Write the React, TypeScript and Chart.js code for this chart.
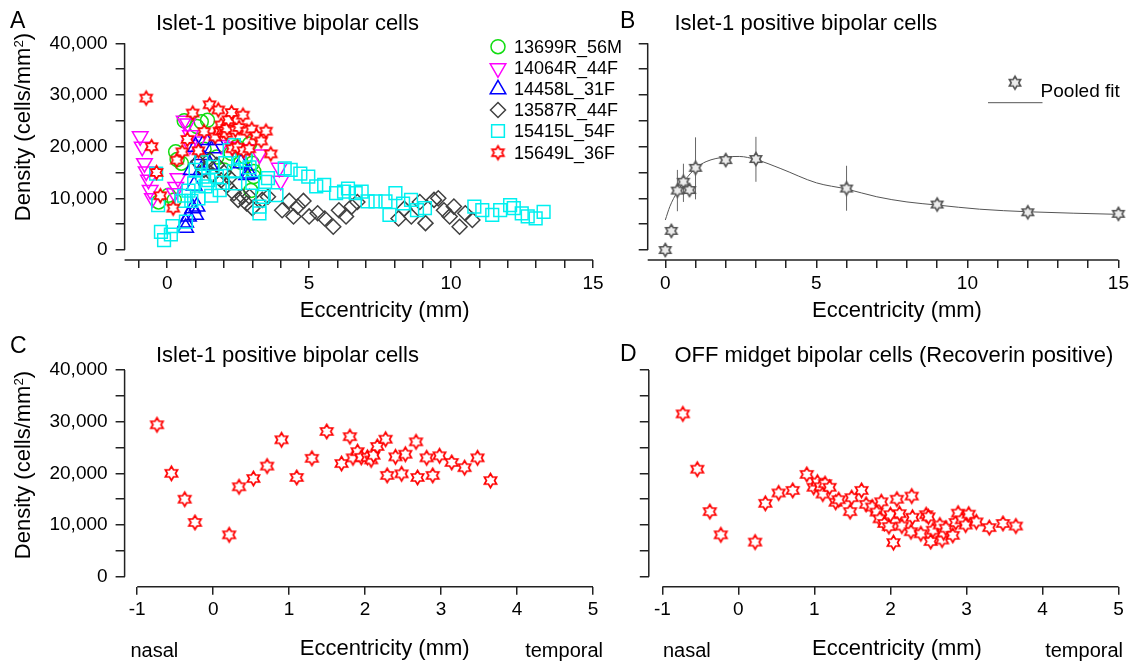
import React, { useEffect, useRef } from 'react';
import { Chart, registerables } from 'chart.js';
import { drawPoint } from 'chart.js/helpers';

Chart.register(...registerables);

const FONT = "'Liberation Sans', Arial, Helvetica, sans-serif";
const AXIS = '#222';

// ---------- Panel A / C : 15649L_36F (red stars) ----------
const redX = [-0.74, -0.55, -0.375, -0.24, 0.21, 0.34, 0.53, 0.71, 0.9, 1.1, 1.3, 1.495, 1.69, 1.8, 1.84, 1.9, 1.95, 2.03, 2.08, 2.11, 2.16, 2.27, 2.29, 2.4, 2.48, 2.53, 2.67, 2.69, 2.81, 2.89, 2.98, 3.14, 3.31, 3.48, 3.65];
const redY = [29400, 20000, 15000, 10500, 8100, 17400, 19000, 21400, 26500, 19200, 22900, 28100, 21900, 27100, 23000, 24200, 23100, 23100, 22600, 23500, 25200, 26600, 19600, 23200, 19900, 23700, 26100, 19200, 23000, 19600, 23400, 22100, 21100, 23000, 18600];

// ---------- Panel A other specimens ----------
const greenX = [-0.3, 0.05, 0.25, 0.3, 0.35, 0.5, 0.6, 1.05, 1.2, 1.42, 1.3, 1.75, 2.0, 2.25, 2.45, 2.6, 2.75, 2.9, 2.95, 3.0, 3.05, 3.05];
const greenY = [9300, 10600, 9700, 19000, 17500, 16800, 25000, 23900, 24800, 25100, 19500, 18000, 15500, 18700, 20000, 17000, 18000, 20500, 11500, 16800, 15200, 14200];

const magX = [-0.95, -0.88, -0.8, -0.74, -0.66, -0.6, -0.52, 0.25, 0.3, 0.38, 0.6, 0.72, 0.82, 0.8, 1.1, 1.9, 2.3, 2.75, 3.25, 3.95, 4.0];
const magY = [22000, 20000, 16800, 15200, 13600, 11600, 10000, 11000, 12200, 13900, 25000, 24500, 22200, 20300, 21000, 20300, 20000, 19500, 18500, 15900, 13400];

const blueX = [0.65, 0.65, 0.75, 0.9, 1.0, 1.05, 0.85, 1.0, 1.2, 1.2, 1.35, 1.6, 1.7, 2.6, 2.8, 2.9, 0.95, 1.5];
const blueY = [4300, 5300, 6500, 8100, 6800, 8400, 15500, 20000, 18400, 15500, 21300, 19700, 21300, 16800, 14500, 14800, 12500, 16500];

const greyX = [1.1, 1.3, 1.5, 1.6, 1.75, 1.9, 2.0, 2.1, 2.2, 2.35, 2.5, 2.65, 2.8, 2.9, 3.0, 3.35, 3.55, 4.05, 4.3, 4.45, 4.6, 4.8, 5.0, 5.3, 5.55, 5.85, 6.05, 6.3, 6.5, 6.7, 8.15, 8.35, 8.6, 8.9, 9.1, 9.4, 9.55, 9.75, 9.95, 10.1, 10.3, 10.5, 10.75];
const greyY = [17000, 15500, 17500, 14500, 16500, 13500, 15000, 12500, 14000, 11000, 9700, 10300, 9000, 10300, 8100, 9700, 10300, 7700, 9500, 6500, 8400, 9500, 6500, 7100, 6100, 4500, 7700, 6500, 8400, 9300, 6100, 8000, 6500, 9300, 5200, 9700, 10000, 7700, 6500, 8400, 4500, 7100, 5800];

const cyanX = [-0.39, -0.32, -0.22, -0.11, 0.13, 0.19, 0.5, 0.6, 0.66, 0.75, 0.85, 0.95, 1.0, 1.1, 1.2, 1.25, 1.35, 1.45, 1.55, 1.6, 1.75, 1.85, 1.95, 2.05, 2.2, 2.35, 2.4, 2.35, 2.55, 2.75, 2.9, 3.0, 3.25, 3.25, 3.35, 3.45, 3.55, 3.85, 4.14, 4.35, 4.69, 4.97, 5.25, 5.53, 5.95, 6.23, 6.37, 6.64, 6.85, 7.06, 7.34, 7.69, 7.83, 8.04, 8.31, 8.59, 8.8, 9.08, 10.82, 11.1, 11.45, 11.73, 12.08, 12.21, 12.49, 12.7, 12.98, 13.26];
const cyanY = [14800, 8700, 3500, 1900, 3000, 4600, 9500, 10500, 5500, 11500, 9500, 12900, 15500, 10000, 17000, 14200, 12300, 13500, 10500, 16100, 14200, 11600, 13000, 16800, 19300, 20300, 12900, 15200, 18000, 17400, 16000, 13000, 7100, 8400, 10300, 13200, 13900, 10600, 15800, 15500, 14800, 14200, 12300, 12600, 11000, 11300, 11900, 11000, 11300, 9400, 9400, 9400, 6800, 11000, 9000, 9700, 7700, 8100, 8400, 7700, 6800, 7700, 8700, 8100, 7100, 6500, 6100, 7400];

const legendNames = ['13699R_56M', '14064R_44F', '14458L_31F', '13587R_44F', '15415L_54F', '15649L_36F'];

// ---------- Panel B : pooled ----------
const pooledX = [0, 0.2, 0.4, 0.6, 0.8, 1, 2, 3, 6, 9, 12, 15];
const pooledY = [0, 3700, 11500, 13200, 11600, 15900, 17400, 17600, 11900, 8800, 7300, 7000];
const pooledLow = [null, null, 7500, 9300, null, 9800, null, 13200, 7600, null, null, null];
const pooledHigh = [null, null, 15500, 16700, null, 21800, null, 21900, 16300, null, null, null];
const fitX = [0, 0.15, 0.4, 0.65, 1.0, 1.35, 2.0, 2.45, 3.0, 3.8, 5.0, 6.0, 7.0, 8.0, 9.0, 10.4, 12, 15];
const fitY = [5800, 8400, 11300, 13500, 15800, 17100, 18000, 18100, 17500, 15800, 13000, 11800, 10300, 9300, 8700, 7900, 7400, 6900];

// ---------- Panel D : OFF midget ----------
const offX = [-0.73, -0.54, -0.375, -0.23, 0.22, 0.355, 0.53, 0.715, 0.9, 0.99, 1.04, 1.08, 1.11, 1.14, 1.2, 1.28, 1.32, 1.47, 1.49, 1.62, 1.68, 1.76, 1.82, 1.88, 1.86, 1.92, 1.98, 2.0, 2.04, 2.085, 2.12, 2.15, 2.28, 2.29, 2.27, 2.4, 2.47, 2.5, 2.53, 2.56, 2.65, 2.68, 2.7, 2.73, 2.82, 2.86, 2.89, 2.94, 2.99, 3.03, 3.13, 3.3, 3.48, 3.65];
const offY = [31500, 20800, 12600, 8100, 6700, 14200, 16200, 16700, 19800, 17300, 18300, 17400, 16000, 18000, 17300, 14400, 14900, 12600, 15300, 16700, 14000, 13500, 12500, 14500, 11200, 10300, 9700, 12000, 6600, 15000, 12200, 9800, 15600, 11500, 8700, 8300, 12000, 11600, 6800, 9000, 10000, 7100, 8500, 9400, 8000, 10500, 12300, 11000, 10000, 12100, 10600, 9500, 10300, 9800];

const yTickValues = [0, 5000, 10000, 15000, 20000, 25000, 30000, 35000, 40000];
const xTicksAB = [-1, 0, 1, 2, 3, 4, 5, 6, 7, 8, 9, 10, 11, 12, 13, 14, 15];
const xTicksB = [0, 1, 2, 3, 4, 5, 6, 7, 8, 9, 10, 11, 12, 13, 14, 15];
const xTicksCD = [-1, 0, 1, 2, 3, 4, 5];

const zip = (xs: number[], ys: number[]) => xs.map((x, i) => ({ x, y: ys[i] }));

function makeStar(R: number, stroke: string, fill: string, lw: number) {
  const size = Math.ceil(2 * R + lw + 3);
  const c = document.createElement('canvas');
  c.width = size;
  c.height = size;
  const ctx = c.getContext('2d')!;
  const cx = size / 2, cy = size / 2;
  const r = R / Math.sqrt(3);
  ctx.beginPath();
  for (let k = 0; k < 12; k++) {
    const a = -Math.PI / 2 + (k * Math.PI) / 6;
    const rr = k % 2 === 0 ? R : r;
    const px = cx + rr * Math.cos(a), py = cy + rr * Math.sin(a);
    if (k === 0) ctx.moveTo(px, py); else ctx.lineTo(px, py);
  }
  ctx.closePath();
  ctx.fillStyle = fill;
  ctx.fill();
  ctx.lineWidth = lw;
  ctx.strokeStyle = stroke;
  ctx.lineJoin = 'miter';
  ctx.stroke();
  return c;
}

type Spec = {
  left: number; top: number; width: number; height: number;
  padTop: number; padRight: number; yWidth: number; xHeight: number;
  xMin: number; xMax: number; xTicks: number[]; xEvery: number; yLabels: boolean; xLineFrom: number;
  build: () => { datasets: any[]; plugins: any[] };
};

function axisPlugin(xFrom: number, xTo: number) {
  return {
    id: 'axisLines',
    afterDraw(chart: any) {
      const { ctx, chartArea, scales } = chart;
      const x = scales.x, y = scales.y;
      ctx.save();
      ctx.strokeStyle = AXIS;
      ctx.lineWidth = 1.5;
      ctx.beginPath();
      ctx.moveTo(chartArea.left, y.getPixelForValue(0));
      ctx.lineTo(chartArea.left, y.getPixelForValue(40000));
      ctx.moveTo(x.getPixelForValue(xFrom), chartArea.bottom);
      ctx.lineTo(x.getPixelForValue(xTo), chartArea.bottom);
      ctx.stroke();
      ctx.restore();
    },
  };
}

function buildConfig(spec: Spec) {
  const { datasets, plugins } = spec.build();
  const tickFont = { family: FONT, size: 19 };
  return {
    type: 'scatter' as const,
    data: { datasets },
    plugins: [axisPlugin(spec.xLineFrom, spec.xMax), ...plugins],
    options: {
      responsive: false,
      maintainAspectRatio: false,
      animation: false as const,
      events: [],
      layout: { padding: { top: spec.padTop, right: spec.padRight, left: 0, bottom: 0 } },
      plugins: { legend: { display: false }, tooltip: { enabled: false }, title: { display: false } },
      scales: {
        x: {
          type: 'linear' as const,
          position: 'bottom' as const,
          min: spec.xMin,
          max: spec.xMax,
          afterBuildTicks: (s: any) => { s.ticks = spec.xTicks.map((v) => ({ value: v })); },
          afterFit: (s: any) => { s.height = spec.xHeight; },
          grid: { display: true, drawOnChartArea: false, drawTicks: true, tickLength: 8, color: AXIS, lineWidth: 1.5 },
          border: { display: false },
          ticks: {
            autoSkip: false, maxRotation: 0, minRotation: 0, padding: 4, color: '#000', font: tickFont,
            callback: (v: any) => (Number(v) % spec.xEvery === 0 ? String(v) : ''),
          },
        },
        y: {
          type: 'linear' as const,
          position: 'left' as const,
          min: -1935,
          max: 40000,
          afterBuildTicks: (s: any) => { s.ticks = yTickValues.map((v) => ({ value: v })); },
          afterFit: (s: any) => { s.width = spec.yWidth; },
          grid: { display: true, drawOnChartArea: false, drawTicks: true, tickLength: 9, color: AXIS, lineWidth: 1.5 },
          border: { display: false },
          ticks: {
            padding: 8, color: '#000', font: tickFont,
            callback: (v: any) => (spec.yLabels && Number(v) % 10000 === 0 ? Number(v).toLocaleString('en-US') : ''),
          },
        },
      },
    },
  };
}

function scatterSet(data: any[], color: string, style: any, radius: number, order: number, rotation = 0, fill = 'transparent') {
  return {
    data, order, showLine: false, clip: false,
    pointStyle: style, pointRadius: radius, pointRotation: rotation,
    borderColor: color, pointBorderColor: color,
    backgroundColor: fill, pointBackgroundColor: fill,
    borderWidth: 1.5, pointBorderWidth: 1.5,
  };
}

const specA: Spec = {
  left: 0, top: 0, width: 640, height: 330,
  padTop: 43.3, padRight: 47, yWidth: 124.6, xHeight: 70,
  xMin: -1.5, xMax: 15, xTicks: xTicksAB, xEvery: 5, yLabels: true, xLineFrom: -1.5,
  build: () => {
    const star = makeStar(6.8, '#ff0000', '#ffffff', 1.7);
    const datasets = [
      scatterSet(zip(greenX, greenY), '#11dd11', 'circle', 7, 6),
      scatterSet(zip(magX, magY), '#ff00ff', 'triangle', 9, 5, 180),
      scatterSet(zip(blueX, blueY), '#0000ff', 'triangle', 9, 4),
      scatterSet(zip(greyX, greyY), '#404040', 'rectRot', 7.5, 3),
      scatterSet(zip(cyanX, cyanY), '#00f0f0', 'rect', 9, 2),
      scatterSet(zip(redX, redY), '#ff0000', star, 7, 1, 0, '#ffffff'),
    ];
    const legendRows = [46.7, 68.3, 89.3, 110, 131, 152.7];
    const legend = {
      id: 'legendA',
      afterDraw(chart: any) {
        const ctx = chart.ctx;
        chart.data.datasets.forEach((ds: any, i: number) => {
          ctx.save();
          ctx.strokeStyle = ds.borderColor;
          ctx.fillStyle = ds.backgroundColor;
          ctx.lineWidth = ds.borderWidth;
          drawPoint(ctx, { pointStyle: ds.pointStyle, radius: ds.pointRadius, rotation: ds.pointRotation, borderWidth: ds.borderWidth } as any, 498, legendRows[i]);
          ctx.restore();
        });
      },
    };
    return { datasets, plugins: [legend] };
  },
};

const specB: Spec = {
  left: 600, top: 0, width: 533, height: 330,
  padTop: 43.3, padRight: 14.5, yWidth: 47.7, xHeight: 70,
  xMin: -0.583, xMax: 15, xTicks: xTicksB, xEvery: 5, yLabels: false, xLineFrom: -0.583,
  build: () => {
    const star = makeStar(6.5, '#555555', '#ececec', 1.6);
    const datasets = [
      { ...scatterSet(zip(pooledX, pooledY), '#555555', star, 7, 1, 0, '#ececec') },
      {
        data: zip(fitX, fitY), order: 2, showLine: true, clip: false, pointRadius: 0,
        borderColor: '#555555', borderWidth: 1, cubicInterpolationMode: 'monotone', fill: false,
      },
    ];
    const errBars = {
      id: 'errBars',
      beforeDatasetsDraw(chart: any) {
        const { ctx, scales } = chart;
        ctx.save();
        ctx.strokeStyle = '#666';
        ctx.lineWidth = 1;
        ctx.beginPath();
        pooledX.forEach((x, i) => {
          const lo = pooledLow[i], hi = pooledHigh[i];
          if (lo == null || hi == null) return;
          const px = scales.x.getPixelForValue(x);
          ctx.moveTo(px, scales.y.getPixelForValue(lo));
          ctx.lineTo(px, scales.y.getPixelForValue(hi));
        });
        ctx.stroke();
        ctx.restore();
      },
    };
    const legend = {
      id: 'legendB',
      afterDraw(chart: any) {
        const ctx = chart.ctx;
        ctx.save();
        drawPoint(ctx, { pointStyle: star, radius: 7, rotation: 0, borderWidth: 1 } as any, 415, 82.7);
        ctx.strokeStyle = '#555';
        ctx.lineWidth = 1;
        ctx.beginPath();
        ctx.moveTo(388, 102.7);
        ctx.lineTo(442.5, 102.7);
        ctx.stroke();
        ctx.restore();
      },
    };
    return { datasets, plugins: [errBars, legend] };
  },
};

const specC: Spec = {
  left: 0, top: 330, width: 640, height: 333,
  padTop: 40, padRight: 47, yWidth: 124.6, xHeight: 76.3,
  xMin: -1.166, xMax: 5, xTicks: xTicksCD, xEvery: 1, yLabels: true, xLineFrom: -1,
  build: () => {
    const star = makeStar(7, '#ff0000', '#ffffff', 1.7);
    return { datasets: [scatterSet(zip(redX, redY), '#ff0000', star, 7, 1, 0, '#ffffff')], plugins: [] };
  },
};

const specD: Spec = {
  left: 600, top: 330, width: 533, height: 333,
  padTop: 40, padRight: 14.5, yWidth: 48.8, xHeight: 76.3,
  xMin: -1.178, xMax: 5, xTicks: xTicksCD, xEvery: 1, yLabels: false, xLineFrom: -1,
  build: () => {
    const star = makeStar(7, '#ff0000', '#ffffff', 1.7);
    return { datasets: [scatterSet(zip(offX, offY), '#ff0000', star, 7, 1, 0, '#ffffff')], plugins: [] };
  },
};

function Panel({ spec }: { spec: Spec }) {
  const ref = useRef<HTMLCanvasElement>(null);
  useEffect(() => {
    const chart = new Chart(ref.current as HTMLCanvasElement, buildConfig(spec) as any);
    return () => chart.destroy();
  }, []);
  return (
    <canvas
      ref={ref}
      width={spec.width}
      height={spec.height}
      style={{ position: 'absolute', left: spec.left, top: spec.top, width: spec.width, height: spec.height }}
    />
  );
}

function Txt({ x, y, size, align = 'left', rotate = false, children }: any) {
  const tx = align === 'center' ? '-50%' : align === 'right' ? '-100%' : '0';
  const style: any = {
    position: 'absolute', left: x, top: y, fontFamily: FONT, fontSize: size,
    lineHeight: `${Math.round(size * 1.2)}px`, whiteSpace: 'nowrap', color: '#000',
    transform: rotate ? 'translate(-50%, -50%) rotate(-90deg)' : `translate(${tx}, -50%)`,
    zIndex: 2,
  };
  return <div style={style}>{children}</div>;
}

const Density = () => (
  <>
    Density (cells/mm<span style={{ fontSize: '0.6em', position: 'relative', top: '-0.55em' }}>2</span>)
  </>
);

const legendRowsY = [46.7, 68.3, 89.3, 110, 131, 152.7];

export default function App() {
  return (
    <div style={{ position: 'fixed', left: 0, top: 0, width: 1133, height: 663, background: '#fff', overflow: 'hidden' }}>
      <Panel spec={specA} />
      <Panel spec={specB} />
      <Panel spec={specC} />
      <Panel spec={specD} />

      <Txt x={10} y={20} size={23}>A</Txt>
      <Txt x={156} y={23.3} size={22}>Islet-1 positive bipolar cells</Txt>
      <Txt x={620} y={20} size={23}>B</Txt>
      <Txt x={674.4} y={23.3} size={22}>Islet-1 positive bipolar cells</Txt>
      <Txt x={10} y={345} size={23}>C</Txt>
      <Txt x={156} y={355} size={22}>Islet-1 positive bipolar cells</Txt>
      <Txt x={620} y={353} size={23}>D</Txt>
      <Txt x={674.4} y={355} size={22}>OFF midget bipolar cells (Recoverin positive)</Txt>

      <Txt x={23.7} y={126.7} size={22} rotate><Density /></Txt>
      <Txt x={23.7} y={465} size={22} rotate><Density /></Txt>

      <Txt x={384.7} y={310} size={22} align="center">Eccentricity (mm)</Txt>
      <Txt x={897} y={310} size={22} align="center">Eccentricity (mm)</Txt>
      <Txt x={384.7} y={648.3} size={22} align="center">Eccentricity (mm)</Txt>
      <Txt x={897} y={648} size={22} align="center">Eccentricity (mm)</Txt>

      <Txt x={130.5} y={650} size={20}>nasal</Txt>
      <Txt x={603} y={650} size={20} align="right">temporal</Txt>
      <Txt x={663} y={650} size={20}>nasal</Txt>
      <Txt x={1123} y={650} size={20} align="right">temporal</Txt>

      {legendNames.map((n, i) => (
        <Txt key={n} x={514} y={legendRowsY[i]} size={18}>{n}</Txt>
      ))}
      <Txt x={1040.6} y={90} size={19}>Pooled fit</Txt>
    </div>
  );
}
